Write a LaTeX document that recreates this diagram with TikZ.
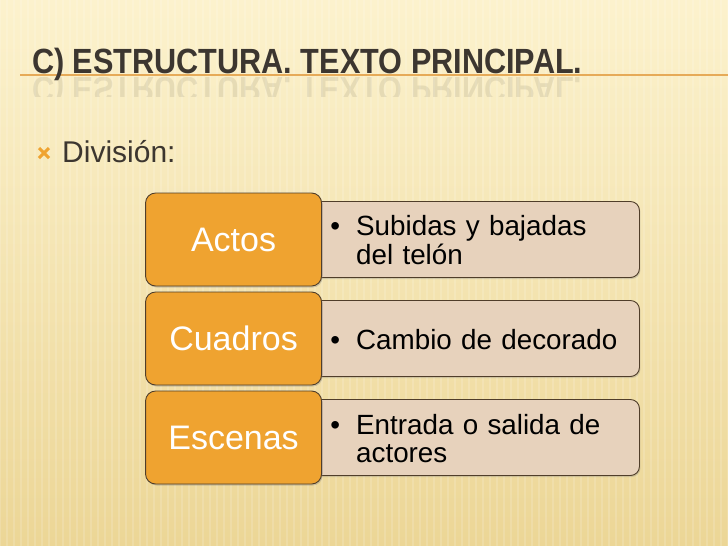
\documentclass[tikz,border=0pt]{standalone}
\usepackage{fontspec}
\setmainfont{Liberation Sans}
\newfontfamily\titlefont[FakeStretch=0.875]{Liberation Sans Bold}
\usetikzlibrary{positioning,shadows}

\definecolor{fondo}{RGB}{252,242,205}
\definecolor{fondob}{RGB}{236,214,150}
\definecolor{naranja}{RGB}{239,163,48}
\definecolor{beige}{RGB}{231,210,188}
\definecolor{borde}{RGB}{80,62,42}
\definecolor{titulo}{RGB}{60,54,48}
\definecolor{linea}{RGB}{230,170,88}

\tikzset{
  caja/.style={draw=borde, line width=0.9pt, fill=naranja, rounded corners=10pt,
    minimum width=176pt, minimum height=93pt, inner sep=0pt, text=white,
    font=\fontsize{34}{36}\selectfont,
    drop shadow={opacity=0.35, shadow xshift=1pt, shadow yshift=-1.5pt}},
  detalle/.style={draw=borde, line width=0.9pt, fill=beige, rounded corners=9pt,
    minimum height=76pt, inner xsep=20pt, text width=289pt, align=left,
    font=\fontsize{27.8}{28}\selectfont,
    drop shadow={opacity=0.3, shadow xshift=1pt, shadow yshift=-1.5pt}},
}
\newcommand{\punto}[1]{\raisebox{-11pt}[0pt][0pt]{\begin{tabular}{@{}l@{\hspace{16pt}}l@{}}\textbullet & #1\end{tabular}}}

\begin{document}
\begin{tikzpicture}[x=1pt,y=-1pt]
\useasboundingbox (0,0) rectangle (728,546);

% background
\shade [top color=fondo, bottom color=fondob] (0,0) rectangle (728,546);
\foreach \x in {0,7,...,728}
  \draw [white, opacity=0.15, line width=1.5pt] (\x,0) -- (\x,546);

% title with line
\draw [linea, line width=1.2pt] (20,75) -- (728,75);
\node [anchor=base west, inner sep=0pt, text=titulo,
  font=\titlefont\fontsize{35}{38}\selectfont] (titulo) at (32,73)
  {C) ESTRUCTURA. TEXTO PRINCIPAL.};
\begin{scope}
  \clip (0,77) rectangle (728,96);
  \node [anchor=base west, inner sep=0pt, yscale=-1, text=titulo, opacity=0.1,
    font=\titlefont\fontsize{35}{38}\selectfont] (reflejo) at (32,77)
    {C) ESTRUCTURA. TEXTO PRINCIPAL.};
\end{scope}

% bullet
\draw [naranja, line width=3pt] (39,148) -- (49,158);
\draw [naranja, line width=3pt] (39,158) -- (49,148);
\node [anchor=base west, inner sep=0pt, text=titulo,
  font=\fontsize{30}{32}\selectfont] (division) at (62,162) {División:};

% right boxes
\node [detalle, anchor=west] (actosd) at (310,239.5)
  {\punto{Subidas y bajadas\\ & del telón}};
\node [detalle, anchor=west] (cuadrosd) at (310,338.5)
  {\punto{Cambio de decorado}};
\node [detalle, anchor=west] (escenasd) at (310,437.5)
  {\punto{Entrada o salida de\\ & actores}};

% left boxes
\node [caja, left=-12pt of actosd] (actos) {Actos};
\node [caja, left=-12pt of cuadrosd] (cuadros) {Cuadros};
\node [caja, left=-12pt of escenasd] (escenas) {Escenas};
\end{tikzpicture}
\end{document}
